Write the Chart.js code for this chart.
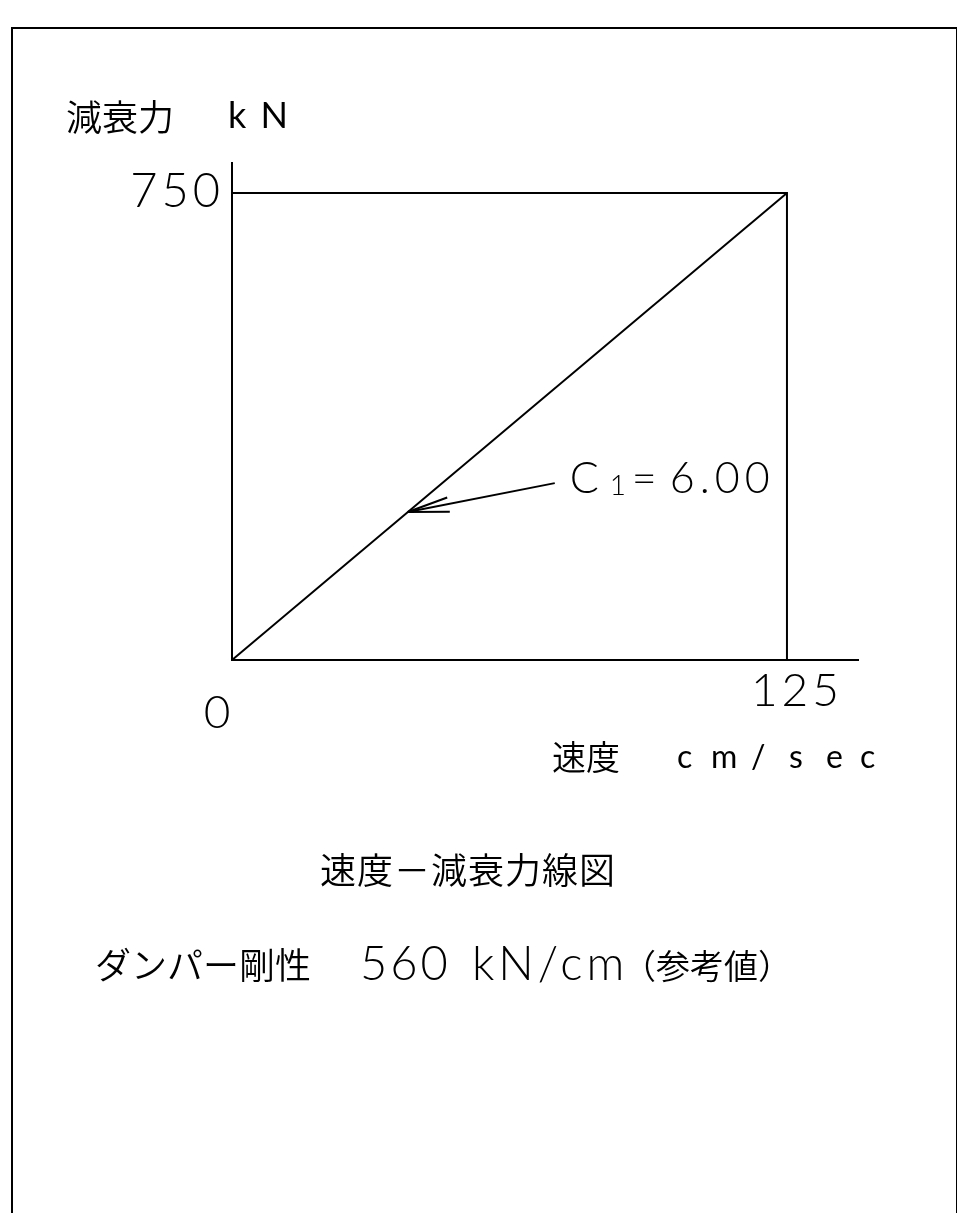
<!DOCTYPE html>
<html>
<head>
<meta charset="utf-8">
<script src="https://cdn.jsdelivr.net/npm/chart.js@4.4.1/dist/chart.umd.min.js"></script>
<style>
  body { margin: 0; background: #fff; }
  canvas { display: block; }
</style>
</head>
<body>
<canvas id="chart" width="957" height="1213"></canvas>
<script>
// data
const velocityRange = [0, 125];        // cm/sec
const forceRange = [0, 750];           // kN
const axisMax = [141, 798];            // how far the axis lines run past the box
const c1 = 6.00;                       // kN/(cm/sec)
const arrowTail = [72.7, 284];
const arrowTipVel = 39.6;
const stiffness = 560;                 // kN/cm

const tickLabels = ["0", "125", "750"];
const yUnitLabel = ["減衰力", "k N"];
const xUnitLabel = ["速度", "c m / s e c"];
const titleText = "速度－減衰力線図";
const stiffText = ["ダンパー剛性", String(stiffness), "kN/cm", "（参考値）"];

const jp = '"Noto Sans CJK JP", sans-serif';
const lat = 'Lato, "DejaVu Sans", sans-serif';

// diagonal: force = c1 * velocity
var diagonal = velocityRange.map(v => ({x: v, y: c1 * v}));
// outer box: top edge and right edge
var box = [
    {x: velocityRange[0], y: forceRange[1]},
    {x: velocityRange[1], y: forceRange[1]},
    {x: velocityRange[1], y: forceRange[0]}
];
var arrow = [
    {x: arrowTail[0], y: arrowTail[1]},
    {x: arrowTipVel, y: c1 * arrowTipVel}
];

function lineSet(pts){
    return {
        data: pts,
        showLine: true,
        borderColor: "#000",
        borderWidth: 2,
        pointRadius: 0,
        tension: 0,
        fill: false
    };
}

// text with extra spacing, anchored left / centre / right
function spaced(ctx, txt, x, y, sp, align){
    ctx.letterSpacing = sp + "px";
    ctx.textAlign = "left";
    var w = ctx.measureText(txt).width - sp;
    var x0 = align === "right" ? x - w : align === "center" ? x - w / 2 : x;
    ctx.fillText(txt, x0, y);
    ctx.letterSpacing = "0px";
}

const drawingPlugin = {
    id: "drawing",
    beforeDraw(chart){
        const ctx = chart.ctx;
        ctx.save();
        ctx.fillStyle = "#fff";
        ctx.fillRect(0, 0, chart.width, chart.height);
        // sheet frame
        ctx.strokeStyle = "#000";
        ctx.lineWidth = 2;
        ctx.strokeRect(12, 28, 945, 1300);
        ctx.restore();
    },
    afterDraw(chart){
        const ctx = chart.ctx;
        const xs = chart.scales.x, ys = chart.scales.y;
        const ox = xs.getPixelForValue(0), oy = ys.getPixelForValue(0);
        const rx = xs.getPixelForValue(velocityRange[1]);
        const ty = ys.getPixelForValue(forceRange[1]);
        const yTop = ys.getPixelForValue(axisMax[1]);
        ctx.save();
        ctx.fillStyle = "#000";
        ctx.strokeStyle = "#000";

        // arrow head
        const tx = xs.getPixelForValue(arrow[1].x), tyy = ys.getPixelForValue(arrow[1].y);
        const sx = xs.getPixelForValue(arrow[0].x), syy = ys.getPixelForValue(arrow[0].y);
        const ang = Math.atan2(syy - tyy, sx - tx);
        ctx.lineWidth = 2;
        ctx.beginPath();
        [-0.16, 0.19].forEach(d => {
            ctx.moveTo(tx, tyy);
            ctx.lineTo(tx + 42 * Math.cos(ang + d), tyy + 42 * Math.sin(ang + d));
        });
        ctx.stroke();

        // tick labels
        ctx.textBaseline = "middle";
        ctx.font = "300 47px " + lat;
        spaced(ctx, tickLabels[2], ox - 12, ty - 1, 4, "right");
        ctx.font = "300 46px " + lat;
        spaced(ctx, tickLabels[0], ox - 15, oy + 53, 0, "center");
        spaced(ctx, tickLabels[1], rx + 8, oy + 31, 4, "center");

        // y unit
        ctx.textAlign = "left";
        ctx.font = "350 36px " + jp;
        ctx.fillText(yUnitLabel[0], ox - 166, yTop - 46);
        ctx.font = "36px " + lat;
        ctx.fillText("k", ox - 4, yTop - 47);
        ctx.textAlign = "right";
        ctx.fillText("N", ox + 56, yTop - 47);

        // x unit
        ctx.textAlign = "left";
        ctx.font = "350 34px " + jp;
        ctx.fillText(xUnitLabel[0], rx - 235, oy + 97);
        ctx.font = "32px " + lat;
        const units = xUnitLabel[1].split(" ");
        const pitch = [0, 34, 74, 112, 149, 183];
        units.forEach((c, i) => ctx.fillText(c, rx - 110 + pitch[i], oy + 98));

        // C1 label next to arrow tail
        ctx.textBaseline = "alphabetic";
        ctx.font = "300 43px " + lat;
        ctx.fillText("C", sx + 15, syy + 10);
        ctx.font = "300 28px " + lat;
        ctx.fillText("1", sx + 55, syy + 12);
        ctx.font = "300 43px " + lat;
        ctx.fillText("=", sx + 77, syy + 10);
        spaced(ctx, c1.toFixed(2), sx + 115, syy + 10, 5, "left");

        // captions
        ctx.textBaseline = "middle";
        ctx.font = "350 36px " + jp;
        spaced(ctx, titleText, ox + 88, oy + 210, 1, "left");
        ctx.fillText(stiffText[0], ox - 137, oy + 305);
        ctx.font = "300 47px " + lat;
        spaced(ctx, stiffText[1], ox + 128, oy + 305, 3, "left");
        spaced(ctx, stiffText[2], ox + 240, oy + 305, 4, "left");
        ctx.font = "350 34px " + jp;
        ctx.fillText(stiffText[3], ox + 390, oy + 306);
        ctx.restore();
    }
};

const axisStyle = {
    grid: { display: true, drawOnChartArea: false, drawTicks: false },
    ticks: { display: false },
    border: { display: true, color: "#000", width: 2 }
};

new Chart(document.getElementById("chart"), {
    type: "scatter",
    data: {
        datasets: [lineSet(box), lineSet(diagonal), lineSet(arrow)]
    },
    options: {
        responsive: false,
        animation: false,
        layout: { padding: { left: 232, top: 163, right: 99, bottom: 553 } },
        plugins: { legend: { display: false }, tooltip: { enabled: false } },
        scales: {
            x: Object.assign({ type: "linear", min: 0, max: axisMax[0] }, axisStyle),
            y: Object.assign({ type: "linear", min: 0, max: axisMax[1] }, axisStyle)
        }
    },
    plugins: [drawingPlugin]
});
</script>
</body>
</html>
